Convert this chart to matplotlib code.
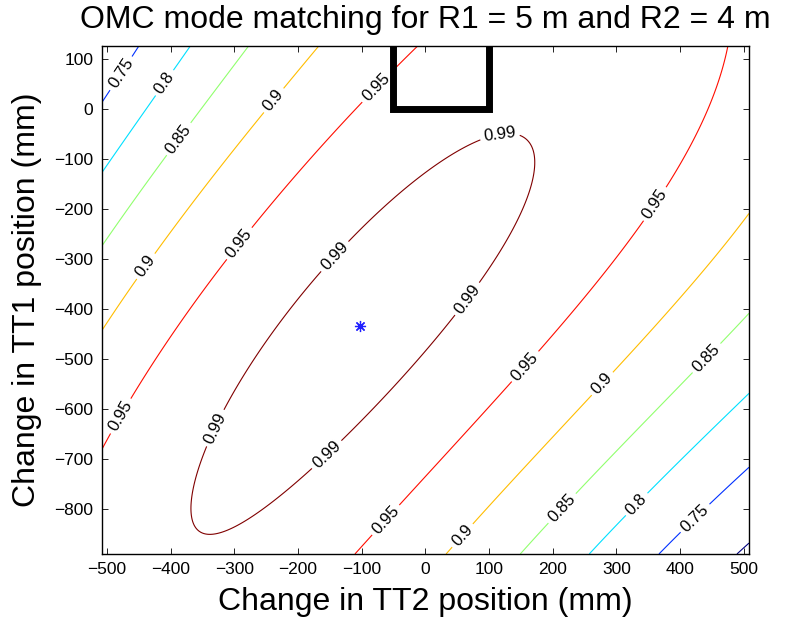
import numpy as np
import matplotlib
matplotlib.use("Agg")
import matplotlib.pyplot as plt

plt.rcParams['font.family'] = ['Liberation Sans', 'DejaVu Sans']

# Contour levels of the mode matching
levels = [0.7, 0.75, 0.8, 0.85, 0.9, 0.95, 0.99]

# Points (TT2 change mm, TT1 change mm)
c99_x = [117, 151, 168, 157, 88, 67, 0, -152, -178, -309, -356, -373, -346, -325, -278, -189, -163, -137, 0, 83]
c99_y = [-52, -50, -101, -195, -341, -381, -495, -695, -715, -835, -845, -795, -675, -641, -535, -381, -341, -301, -128, -57]
c95_x = [-8, -100, -286, -327, -351, -477, -508, 473, 376, 358, 274, 251, 162, 0, -63, -105]
c95_y = [125, 15, -275, -341, -381, -615, -661, 127, -148, -188, -341, -381, -521, -745, -821, -877]
c90_x = [-160, -233, -435, -450, -474, -508, 508, 429, 402, 285, 60, 49]
c90_y = [127, 12, -318, -341, -381, -438, -201, -341, -381, -558, -855, -878]
c85_x = [-270, -385, -508, 508, 447, 225, 162]
c85_y = [127, -62, -265, -415, -505, -811, -878]
c80_x = [-364, -409, -508, 508, 447, 340, 274]
c80_y = [127, 52, -111, -578, -661, -801, -885]
c75_x = [-453, -482, -508, 508, 423, 376]
c75_y = [127, 75, 32, -725, -818, -890]
c70_x = [508, 481]
c70_y = [-855, -890]

# Best matching point
star_x = [-102]
star_y = [-433]

# OMC target window
box_x = [-50, -50, 100, 100]
box_y = [300, 0, 0, 300]

# Where the contour labels sit
label_pos = [(-482, 75), (423, -818),
             (-409, 52), (340, -801),
             (-385, -62), (447, -505), (225, -811),
             (-233, 12), (-435, -318), (285, -558), (60, -855),
             (-74, 39), (-286, -275), (-477, -615), (358, -188), (162, -521), (-63, -821),
             (117, -52), (-137, -301), (-325, -641), (-152, -695), (67, -381)]

# MATLAB jet colours for the levels
line_colors = [(0, 0, 0.5), (0, 0.19, 1), (0, 0.88, 1), (0.57, 1, 0.43),
               (1, 0.74, 0), (1, 0.05, 0), (0.5, 0, 0)]

# Build a smooth surface through the traced contour points
# (the corner levels have few points, so they count a bit more)
groups = [(0.99, c99_x, c99_y, 1), (0.95, c95_x, c95_y, 1), (0.9, c90_x, c90_y, 1),
          (0.85, c85_x, c85_y, 1), (0.8, c80_x, c80_y, 1.5), (0.75, c75_x, c75_y, 2),
          (0.7, c70_x, c70_y, 4)]
px, py, pv, pw = [], [], [], []
for lev, gx, gy, gw in groups:
    px += gx
    py += gy
    pv += [lev] * len(gx)
    pw += [gw] * len(gx)
px, py, pv, pw = (np.array(a, float) for a in (px, py, pv, pw))


def terms(x, y):
    u = (x - star_x[0]) / 500.0
    v = (y - star_y[0]) / 500.0
    return np.stack([u*u, u*v, v*v,
                     u**3, u*u*v, u*v*v, v**3,
                     u**4, u**3*v, u*u*v*v, u*v**3, v**4], axis=-1)


q = 1 - pv
w = pw / q
A = terms(px, py)
coef, *_ = np.linalg.lstsq(A * w[:, None], q * w, rcond=None)

xg = np.linspace(-508, 508, 400)
yg = np.linspace(-890, 126, 400)
XX, YY = np.meshgrid(xg, yg)
F = 1 - terms(XX, YY) @ coef

fig = plt.figure(figsize=(7.89, 6.21), dpi=100)
ax = fig.add_axes([0.1289, 0.1079, 0.8204, 0.8180])

cs = ax.contour(XX, YY, F, levels=levels, colors=line_colors, linewidths=0.8)
ax.clabel(cs, fmt='%g', colors='k', fontsize=12, inline=True,
          inline_spacing=4, manual=label_pos)

ax.plot(star_x, star_y, linestyle='none', marker=(8, 2, 0), markersize=8,
        markeredgewidth=0.9, color='#2020ff')
ax.plot(box_x, box_y, color='k', lw=5, solid_joinstyle='miter')

ax.set_xlim(-508, 508)
ax.set_ylim(-890, 126)
ax.set_xticks(np.arange(-500, 501, 100))
ax.set_yticks(np.arange(-800, 101, 100))
ax.tick_params(direction='in', top=True, right=True, length=4, width=0.6,
               labelsize=12.5, pad=6)
for s in ax.spines.values():
    s.set_linewidth(1.0)

ax.set_title('OMC mode matching for R1 = 5 m and R2 = 4 m', fontsize=23, pad=13)
ax.set_xlabel('Change in TT2 position (mm)', fontsize=23, labelpad=7)
ax.set_ylabel('Change in TT1 position (mm)', fontsize=23, labelpad=9)

fig.savefig('out.png', dpi=100)
